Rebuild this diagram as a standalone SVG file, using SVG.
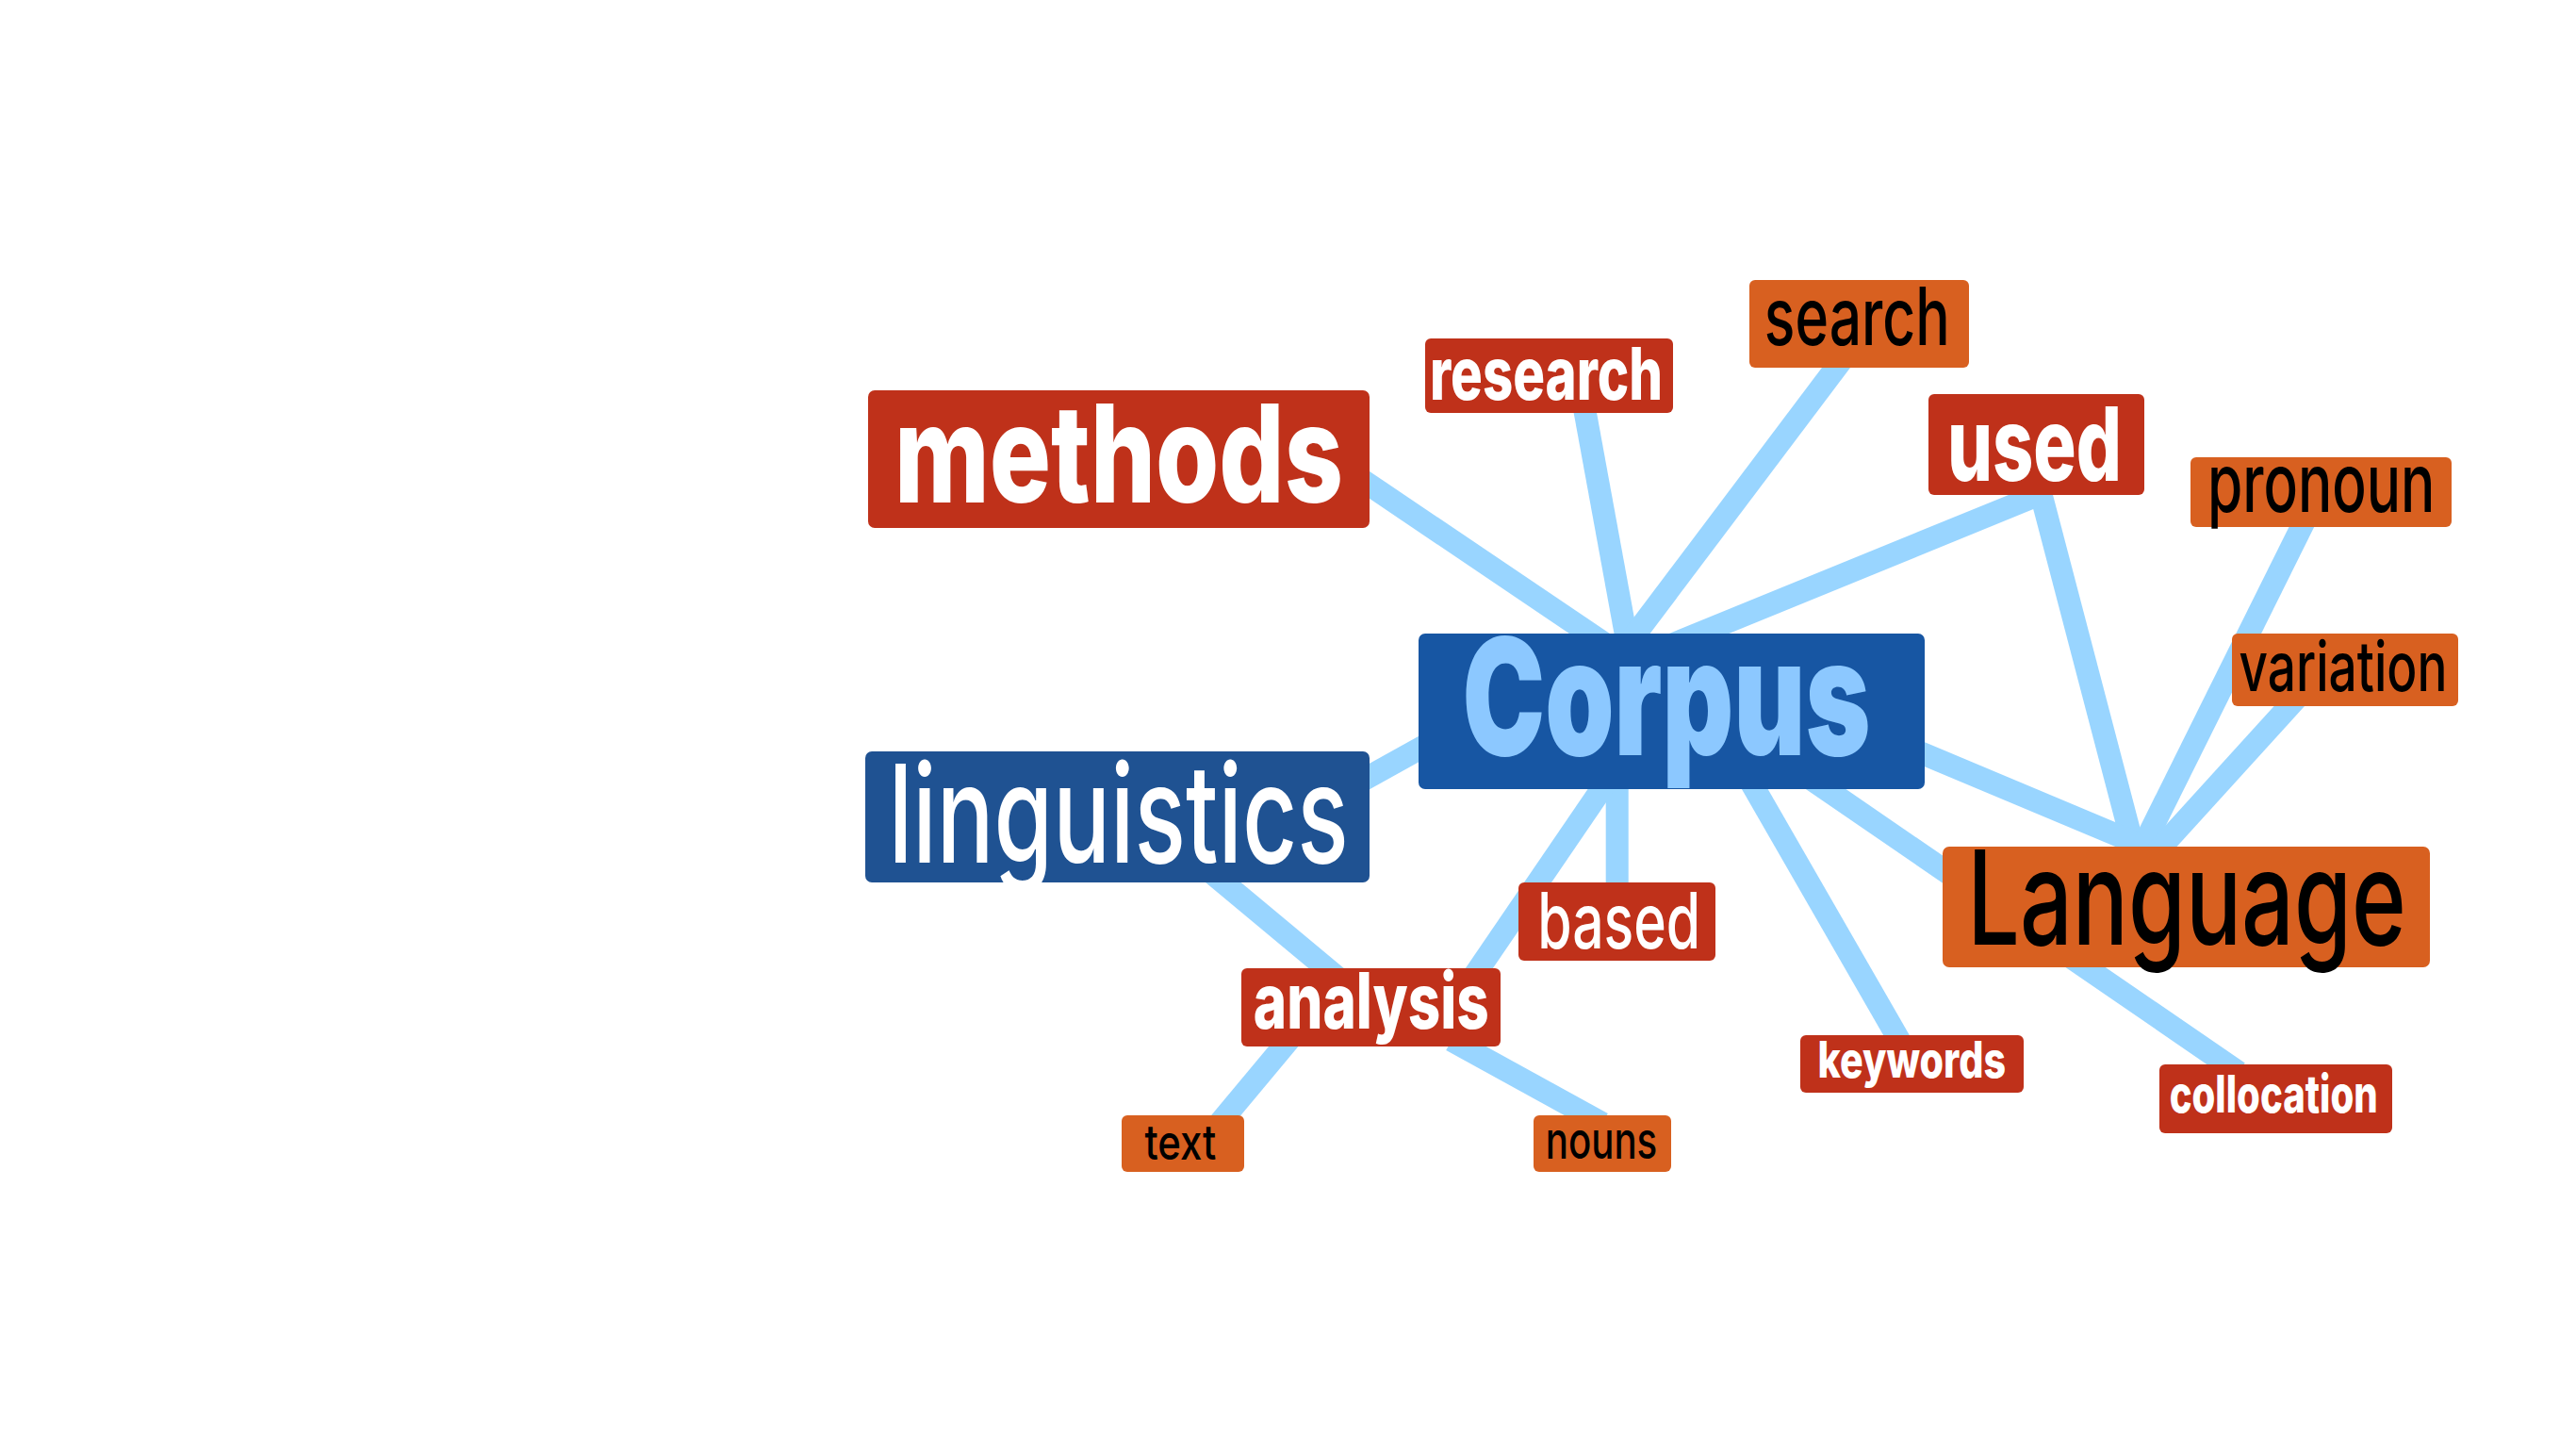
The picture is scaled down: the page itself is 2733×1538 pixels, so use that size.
<svg xmlns="http://www.w3.org/2000/svg" width="2733" height="1538" viewBox="0 0 2733 1538">
<style>
.edge{stroke:#99D5FF;stroke-width:24;stroke-linecap:butt;fill:none}
.red{fill:#BF311A}
.org{fill:#D86020}
.lbl{font-family:"Inter","Roboto","Liberation Sans",sans-serif;text-anchor:middle}
.b{font-weight:800}
.r{font-weight:500}
.w{fill:#FFFFFF}
.k{fill:#000000}
</style>
<rect x="0" y="0" width="2733" height="1538" fill="#FFFFFF"/>
<g id="connectors">
<line class="edge" x1="1440" y1="505.6" x2="1716" y2="692"/>
<line class="edge" x1="1680.4" y1="430" x2="1728" y2="690"/>
<line class="edge" x1="1954" y1="382" x2="1722" y2="690"/>
<line class="edge" x1="2165" y1="524" x2="1740" y2="697.5"/>
<line class="edge" x1="2165.4" y1="524" x2="2265.2" y2="905"/>
<line class="edge" x1="1950" y1="761.5" x2="2268" y2="895"/>
<line class="edge" x1="2446.3" y1="550" x2="2269.9" y2="905"/>
<line class="edge" x1="2437" y1="740" x2="2287" y2="905"/>
<line class="edge" x1="1900" y1="811.5" x2="2375" y2="1137.5"/>
<line class="edge" x1="1852" y1="820" x2="2018.9" y2="1110"/>
<line class="edge" x1="1715.7" y1="820" x2="1715.7" y2="950"/>
<line class="edge" x1="1560.5" y1="1040" x2="1710.7" y2="820"/>
<line class="edge" x1="1440" y1="830.7" x2="1530" y2="780.7"/>
<line class="edge" x1="1284.6" y1="925" x2="1428.7" y2="1045"/>
<line class="edge" x1="1374.2" y1="1095" x2="1286.6" y2="1200"/>
<line class="edge" x1="1540" y1="1103.6" x2="1700" y2="1191.6"/>
</g>
<g id="node-methods">
<rect class="red" x="921" y="414" width="532" height="146" rx="7"/>
<text class="lbl b w" x="1187" y="532.6" font-size="144" textLength="476" lengthAdjust="spacingAndGlyphs">methods</text>
</g>
<g id="node-research">
<rect class="red" x="1512" y="359" width="263" height="79" rx="6"/>
<text class="lbl b w" x="1640.5" y="424.3" font-size="77" textLength="247" lengthAdjust="spacingAndGlyphs">research</text>
</g>
<g id="node-search">
<rect class="org" x="1856" y="297" width="233" height="93" rx="6"/>
<text class="lbl r k" x="1970.3" y="366" font-size="85" textLength="197" lengthAdjust="spacingAndGlyphs">search</text>
</g>
<g id="node-used">
<rect class="red" x="2046" y="418" width="229" height="107" rx="6"/>
<text class="lbl b w" x="2158.5" y="509.6" font-size="108" textLength="185" lengthAdjust="spacingAndGlyphs">used</text>
</g>
<g id="node-pronoun">
<rect class="org" x="2324" y="485" width="277" height="74" rx="6"/>
<text class="lbl r k" x="2462.7" y="542.8" font-size="86" textLength="241.5" lengthAdjust="spacingAndGlyphs">pronoun</text>
</g>
<g id="node-variation">
<rect class="org" x="2368" y="672" width="240" height="77" rx="6"/>
<text class="lbl r k" x="2486" y="733" font-size="73" textLength="221" lengthAdjust="spacingAndGlyphs">variation</text>
</g>
<g id="node-corpus">
<rect fill="#1756A3" x="1505" y="672" width="537" height="165" rx="7"/>
<text class="lbl" font-weight="900" fill="#8CC8FF" x="1768" y="801" font-size="172" textLength="433" lengthAdjust="spacingAndGlyphs">Corpus</text>
</g>
<g id="node-linguistics">
<rect fill="#1F5292" x="918" y="797" width="535" height="139" rx="7"/>
<text class="lbl r w" x="1186.8" y="915" font-size="145" textLength="488" lengthAdjust="spacingAndGlyphs">linguistics</text>
</g>
<g id="node-language">
<rect class="org" x="2061" y="898" width="517" height="128" rx="7"/>
<text class="lbl r k" x="2320" y="1002" font-size="139" textLength="465.5" lengthAdjust="spacingAndGlyphs">Language</text>
</g>
<g id="node-based">
<rect class="red" x="1611" y="936" width="209" height="83" rx="6"/>
<text class="lbl r w" x="1717.7" y="1006" font-size="82" textLength="173" lengthAdjust="spacingAndGlyphs">based</text>
</g>
<g id="node-analysis">
<rect class="red" x="1317" y="1027" width="275" height="83" rx="6"/>
<text class="lbl b w" x="1454.8" y="1090.5" font-size="82" textLength="250" lengthAdjust="spacingAndGlyphs">analysis</text>
</g>
<g id="node-keywords">
<rect class="red" x="1910" y="1098" width="237" height="61" rx="6"/>
<text class="lbl b w" x="2028.3" y="1143.3" font-size="53" textLength="199.5" lengthAdjust="spacingAndGlyphs">keywords</text>
</g>
<g id="node-collocation">
<rect class="red" x="2291" y="1129" width="247" height="73" rx="6"/>
<text class="lbl b w" x="2412.2" y="1180" font-size="55" textLength="221" lengthAdjust="spacingAndGlyphs">collocation</text>
</g>
<g id="node-text">
<rect class="org" x="1190" y="1183" width="130" height="60" rx="6"/>
<text class="lbl r k" x="1252.4" y="1229.7" font-size="52" textLength="76" lengthAdjust="spacingAndGlyphs">text</text>
</g>
<g id="node-nouns">
<rect class="org" x="1627" y="1183" width="146" height="60" rx="6"/>
<text class="lbl r k" x="1699" y="1229.3" font-size="54" textLength="118.6" lengthAdjust="spacingAndGlyphs">nouns</text>
</g>
</svg>
